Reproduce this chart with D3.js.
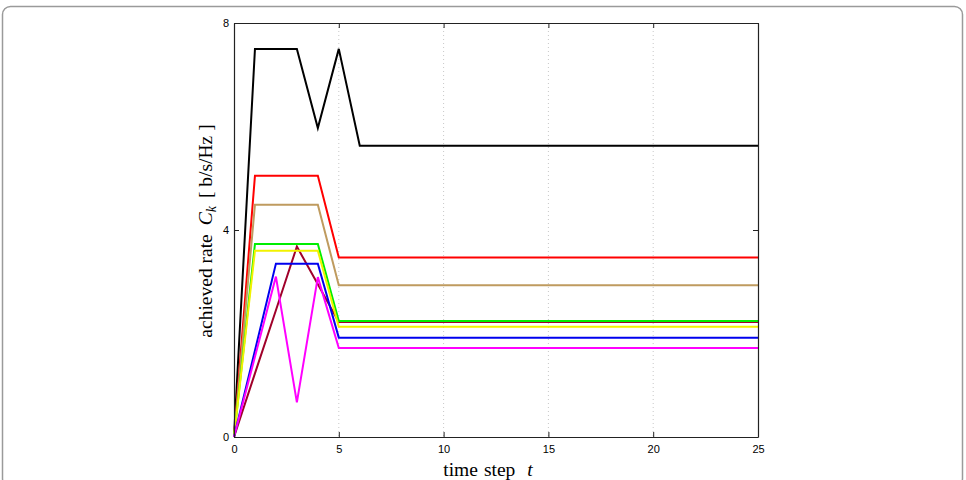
<!DOCTYPE html>
<html>
<head>
<meta charset="utf-8">
<script src="https://cdn.jsdelivr.net/npm/d3@7"></script>
<style>
  body { margin: 0; background: #fff; }
  .tick text { font-family: "Liberation Sans", Arial, sans-serif; font-size: 11px; fill: #000; }
  .axlabel { font-family: "Liberation Serif", "Times New Roman", serif; font-size: 19.5px; fill: #000; }
</style>
</head>
<body>
<div id="chart"></div>
<script>
var svgWidth = 966;
var svgHeight = 480;

var margin = { top: 23, right: 208, bottom: 43, left: 234 };
var width = svgWidth - margin.left - margin.right;
var height = svgHeight - margin.top - margin.bottom;

// time steps where the curves change, last one holds to the end
var steps = [0, 1, 2, 3, 4, 5, 6, 25];

var blackRate   = [0, 7.50, 7.50, 7.50, 5.97, 7.50, 5.63, 5.63];
var redRate     = [0, 5.05, 5.05, 5.05, 5.05, 3.47, 3.47, 3.47];
var tanRate     = [0, 4.49, 4.49, 4.49, 4.49, 2.93, 2.93, 2.93];
var darkredRate = [0, 1.23, 2.45, 3.68, 2.95, 2.22, 2.22, 2.22];
var greenRate   = [0, 3.73, 3.73, 3.73, 3.73, 2.24, 2.24, 2.24];
var yellowRate  = [0, 3.60, 3.60, 3.60, 3.60, 2.13, 2.13, 2.13];
var blueRate    = [0, 1.67, 3.35, 3.35, 3.35, 1.92, 1.92, 1.92];
var magentaRate = [0, 1.55, 3.10, 0.67, 3.09, 1.72, 1.72, 1.72];

var xTicks = [0, 5, 10, 15, 20, 25];
var yTicks = [0, 4, 8];
var gridTicks = [5, 10, 15, 20];

var series = [
  { values: blackRate,   color: "#000000" },
  { values: redRate,     color: "#ff0000" },
  { values: tanRate,     color: "#bf9b5f" },
  { values: darkredRate, color: "#a0002a" },
  { values: greenRate,   color: "#00ee00" },
  { values: yellowRate,  color: "#f2f200" },
  { values: blueRate,    color: "#0000ee" },
  { values: magentaRate, color: "#ff00ff" }
];

var svg = d3.select("#chart")
  .append("svg")
  .attr("width", svgWidth)
  .attr("height", svgHeight);

// outer frame
svg.append("rect")
  .attr("x", 2.5).attr("y", 6.5)
  .attr("width", 960).attr("height", 480)
  .attr("rx", 8)
  .attr("fill", "none")
  .attr("stroke", "#9a9a9a")
  .attr("stroke-width", 1.5);

var chartGroup = svg.append("g")
  .attr("transform", `translate(${margin.left}, ${margin.top})`);

var xScale = d3.scaleLinear().domain([0, 25]).range([0, width]);
var yScale = d3.scaleLinear().domain([0, 8]).range([height, 0]);

// vertical dotted grid
chartGroup.append("g").selectAll("line")
  .data(gridTicks)
  .enter()
  .append("line")
  .attr("x1", d => xScale(d)).attr("x2", d => xScale(d))
  .attr("y1", 0).attr("y2", height)
  .attr("stroke", "#c8c8c8")
  .attr("stroke-width", 1)
  .attr("stroke-dasharray", "1,3");

var line = d3.line()
  .x((d, i) => xScale(steps[i]))
  .y(d => yScale(d));

chartGroup.append("g").selectAll("path")
  .data(series)
  .enter()
  .append("path")
  .attr("d", d => line(d.values))
  .attr("fill", "none")
  .attr("stroke", d => d.color)
  .attr("stroke-width", 2)
  .attr("stroke-linejoin", "miter");

// axes, ticks pointing inward like matlab
function styleAxis(g) {
  g.select(".domain").attr("stroke", "#222").attr("stroke-width", 1.2);
  g.selectAll(".tick line").attr("stroke", "#222");
}

chartGroup.append("g")
  .attr("transform", `translate(0, ${height})`)
  .call(d3.axisBottom(xScale).tickValues(xTicks).tickSize(-5).tickPadding(8).tickSizeOuter(0))
  .call(styleAxis);

chartGroup.append("g")
  .call(d3.axisTop(xScale).tickValues(xTicks).tickSize(-5).tickFormat("").tickSizeOuter(0))
  .call(styleAxis);

chartGroup.append("g")
  .call(d3.axisLeft(yScale).tickValues(yTicks).tickSize(-5).tickPadding(5).tickSizeOuter(0))
  .call(styleAxis);

chartGroup.append("g")
  .attr("transform", `translate(${width}, 0)`)
  .call(d3.axisRight(yScale).tickValues(yTicks).tickSize(-5).tickFormat("").tickSizeOuter(0))
  .call(styleAxis);

// x label
var xl = chartGroup.append("text")
  .attr("class", "axlabel")
  .attr("x", 254)
  .attr("y", height + 39)
  .attr("text-anchor", "middle");
xl.append("tspan").text("time");
xl.append("tspan").attr("dx", 6).text("step");
xl.append("tspan").attr("dx", 12).attr("font-style", "italic").text("t");

// y label
var yl = chartGroup.append("text")
  .attr("class", "axlabel")
  .attr("transform", "rotate(-90)")
  .attr("x", -(231 - margin.top))
  .attr("y", -22)
  .attr("text-anchor", "middle");
yl.append("tspan").text("achieved rate");
yl.append("tspan").attr("dx", 9).attr("font-style", "italic").text("C");
yl.append("tspan").attr("font-style", "italic").attr("font-size", "14px").attr("dy", 4).text("k");
yl.append("tspan").attr("dx", 8).attr("dy", -4).text("[ b/s/Hz ]");
</script>
</body>
</html>
